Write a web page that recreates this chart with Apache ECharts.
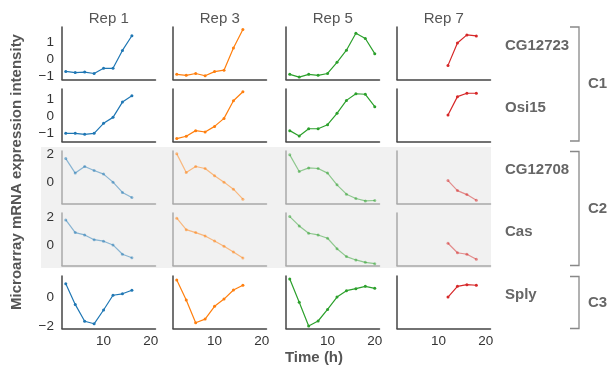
<!DOCTYPE html>
<html><head><meta charset="utf-8">
<script src="https://cdn.jsdelivr.net/npm/echarts@6/dist/echarts.min.js"></script>
<style>html,body{margin:0;padding:0;background:#fff}#c{width:608px;height:367px}</style>
</head><body><div id="c"></div>
<script>
// ---- data ----
const reps = ['Rep 1', 'Rep 3', 'Rep 5', 'Rep 7'];
const genes = ['CG12723', 'Osi15', 'CG12708', 'Cas', 'Sply'];
const clusters = ['C1', 'C2', 'C3'];
const timesRep1 = [2, 4, 6, 8, 10, 12, 14, 16];
const timesRep3 = [2, 4, 6, 8, 10, 12, 14, 16];
const timesRep5 = [2, 4, 6, 8, 10, 12, 14, 16, 18, 20];
const timesRep7 = [12, 14, 16, 18];
const xTickLabels = [10, 20];

const CG12723 = [
  [-0.71, -0.78, -0.75, -0.83, -0.53, -0.53, 0.51, 1.36],
  [-0.88, -0.94, -0.83, -0.96, -0.72, -0.64, 0.65, 1.72],
  [-0.88, -1.04, -0.88, -0.94, -0.83, -0.18, 0.52, 1.51, 1.2, 0.32],
  [-0.36, 0.94, 1.41, 1.35]
];
const Osi15 = [
  [-1.02, -1.02, -1.08, -1.02, -0.43, -0.08, 0.82, 1.19],
  [-1.33, -1.19, -0.86, -0.94, -0.61, -0.14, 0.9, 1.43],
  [-0.86, -1.18, -0.75, -0.75, -0.51, 0.16, 0.92, 1.31, 1.28, 0.55],
  [0.06, 1.14, 1.34, 1.34]
];
const CG12708 = [
  [1.67, 0.66, 1.12, 0.84, 0.59, 0.03, -0.69, -1.04],
  [2.0, 0.7, 1.12, 0.98, 0.47, 0.03, -0.46, -1.16],
  [1.93, 0.77, 1.02, 0.98, 0.66, -0.16, -0.81, -1.11, -1.28, -1.25],
  [0.14, -0.56, -0.84, -1.23]
];
const Cas = [
  [1.8, 0.89, 0.72, 0.38, 0.27, 0.0, -0.67, -0.92],
  [1.93, 1.1, 0.89, 0.65, 0.29, -0.09, -0.51, -0.94],
  [2.04, 1.37, 0.84, 0.72, 0.48, -0.27, -0.84, -1.08, -1.25, -1.35],
  [0.12, -0.56, -0.67, -1.03]
];
const Sply = [
  [0.93, -0.48, -1.63, -1.8, -0.86, 0.14, 0.24, 0.48],
  [1.18, -0.18, -1.73, -1.48, -0.61, -0.12, 0.5, 0.82],
  [1.24, -0.34, -1.95, -1.61, -0.82, 0.02, 0.45, 0.59, 0.75, 0.61],
  [0.02, 0.75, 0.86, 0.82]
];
const yTickLabels = [[-1, 0, 1], [-1, 0, 1], [0, 2], [0, 2], [-2, 0]];

// ---- layout ----
const times = [timesRep1, timesRep3, timesRep5, timesRep7];
const values = [CG12723, Osi15, CG12708, Cas, Sply];
const colLeft = [62, 173, 286, 397];
const colW = 93.5;
const rowTop = [27, 89, 151, 213, 276];
const rowH = 52.5;
const yRange = [[-1.18, 1.87], [-1.5, 1.59], [-1.46, 2.2], [-1.48, 2.3], [-2.12, 1.45]];
const colors = ['#1f77b4', '#ff7f0e', '#2ca02c', '#d62728'];
const faded = [false, false, true, true, false];
const FONT = 'Liberation Sans, Arial, sans-serif';

const grid = [], xAxis = [], yAxis = [], series = [];
let k = 0;
for (let r = 0; r < 5; r++) {
  for (let c = 0; c < 4; c++) {
    grid.push({left: colLeft[c], top: rowTop[r], width: colW, height: rowH, containLabel: false});
    const axColor = faded[r] ? '#a8a8a8' : '#444';
    xAxis.push({
      type: 'value', gridIndex: k, min: 1.2, max: 21,
      axisLine: {show: true, onZero: false, lineStyle: {color: axColor, width: 1.5}},
      axisTick: {show: false}, splitLine: {show: false},
      axisLabel: {show: r === 4, customValues: xTickLabels, color: '#333', fontSize: 13.5, fontFamily: FONT, margin: 6}
    });
    yAxis.push({
      type: 'value', gridIndex: k, min: yRange[r][0], max: yRange[r][1],
      axisLine: {show: true, onZero: false, lineStyle: {color: axColor, width: 1.5}},
      axisTick: {show: false}, splitLine: {show: false},
      axisLabel: {show: c === 0, customValues: yTickLabels[r], color: '#333', fontSize: 13.5, fontFamily: FONT, margin: 8,
        formatter: v => String(v).replace('-', '\u2212')}
    });
    series.push({
      type: 'line', xAxisIndex: k, yAxisIndex: k,
      data: times[c].map((t, i) => [t, values[r][c][i]]),
      symbol: 'circle', symbolSize: 3, showSymbol: true,
      lineStyle: {color: colors[c], width: 1.2, opacity: faded[r] ? 0.5 : 1},
      itemStyle: {color: colors[c], opacity: faded[r] ? 0.5 : 1},
      silent: true, animation: false
    });
    k++;
  }
}

const graphic = [];
graphic.push({type: 'rect', z: -10, shape: {x: 41, y: 147, width: 450, height: 121}, style: {fill: '#f1f1f1'}});
reps.forEach((t, c) => graphic.push({type: 'text', x: colLeft[c] + colW / 2, y: 19,
  style: {text: t, fill: '#555', font: '15px ' + FONT, textAlign: 'center', textVerticalAlign: 'middle'}}));
genes.forEach((g, r) => graphic.push({type: 'text', x: 505, y: rowTop[r] + rowH / 2 - 7,
  style: {text: g, fill: '#666', font: 'bold 15px ' + FONT, textAlign: 'left', textVerticalAlign: 'middle'}}));
const brackets = [[27, 141], [151.5, 265.5], [276.5, 328.5]];
brackets.forEach((b, i) => {
  graphic.push({type: 'polyline', shape: {points: [[570, b[0]], [579, b[0]], [579, b[1]], [570, b[1]]]},
    style: {stroke: '#888', lineWidth: 1.3, fill: null}});
  graphic.push({type: 'text', x: 588, y: (b[0] + b[1]) / 2,
    style: {text: clusters[i], fill: '#666', font: 'bold 15px ' + FONT, textAlign: 'left', textVerticalAlign: 'middle'}});
});
graphic.push({type: 'text', x: 314, y: 358,
  style: {text: 'Time (h)', fill: '#555', font: 'bold 15px ' + FONT, textAlign: 'center', textVerticalAlign: 'middle'}});
graphic.push({type: 'text', x: 17, y: 172, rotation: Math.PI / 2,
  style: {text: 'Microarray mRNA expression intensity', fill: '#555', font: 'bold 15px ' + FONT, textAlign: 'center', textVerticalAlign: 'middle'}});

const chart = echarts.init(document.getElementById('c'), null, {renderer: 'canvas'});
chart.setOption({animation: false, backgroundColor: '#fff', grid, xAxis, yAxis, series, graphic});
</script>
</body></html>
